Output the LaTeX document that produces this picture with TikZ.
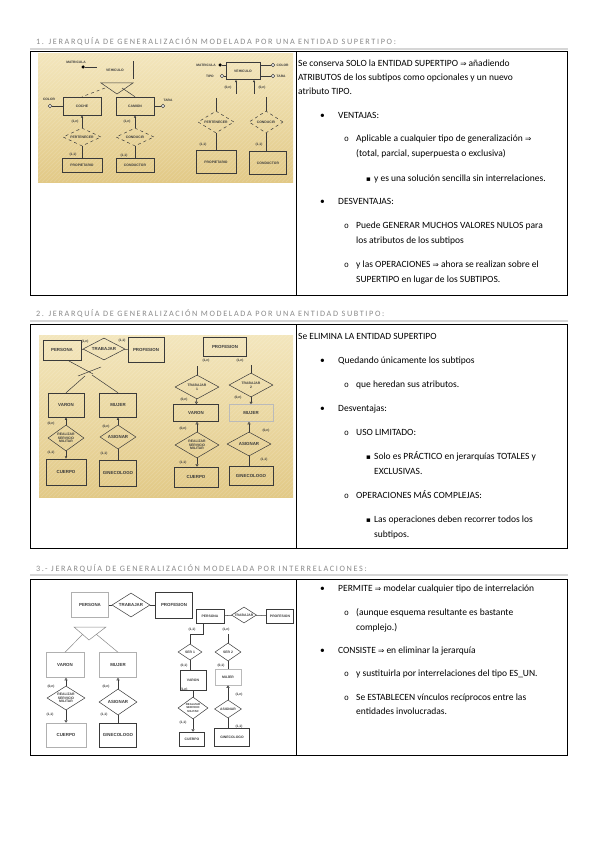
\documentclass[tikz,border=0pt]{standalone}
\usepackage{fontspec}
\setmainfont{Carlito}
\newfontfamily\diagf{Liberation Sans}
\newfontfamily\symf{DejaVu Sans}
\newfontfamily\monof{Liberation Mono}
\usetikzlibrary{shapes.geometric,arrows.meta}
\definecolor{tanA}{HTML}{F3E6BC}
\definecolor{tanB}{HTML}{E2C986}
\definecolor{titlegray}{HTML}{8A8A8A}
\definecolor{rulegray}{HTML}{D6D6D6}
\definecolor{inkd}{HTML}{3A3A3A}
\tikzset{
 ttl/.style={anchor=base west, inner sep=0, text=titlegray, font=\fontsize{8.2}{9.5}\selectfont\addfontfeature{LetterSpace=20}},
 txt/.style={anchor=base west, inner sep=0, font=\fontsize{9.5}{11}\selectfont},
 bul/.style={anchor=base west, inner sep=0, font=\fontsize{9.5}{11}\selectfont},
 bulo/.style={anchor=base west, inner sep=0, font=\monof\fontsize{8}{9}\selectfont},
 buls/.style={anchor=base west, inner sep=0, font=\symf\fontsize{7}{8}\selectfont},
 ent/.style={draw=inkd, line width=0.5, inner sep=0, text=inkd, align=center, font=\diagf\bfseries\fontsize{4.4}{4.8}\selectfont},
 sm/.style={font=\diagf\bfseries\fontsize{3.4}{3.8}\selectfont},
 rel/.style={diamond, shape aspect=2, draw=inkd, line width=0.5, inner sep=0, text=inkd, align=center, font=\diagf\bfseries\fontsize{4.4}{4.8}\selectfont},
 card/.style={inner sep=0, text=inkd, font=\diagf\bfseries\fontsize{3.3}{3.7}\selectfont},
 cn/.style={draw=inkd, line width=0.5},
 fa/.style={cn, -{Latex[length=2.5,width=2.5]}},
 oa/.style={cn, -{Triangle[open,length=2.5,width=3.2]}},
 wc/.style={circle, draw=inkd, fill=white, inner sep=0, minimum size=3.5, line width=0.4},
 bc/.style={circle, fill=black, inner sep=0, minimum size=3.5},
}
\begin{document}
\begin{tikzpicture}[x=1pt,y=-1pt]
\useasboundingbox (0,0) rectangle (599,848);
\fill[white] (0,0) rectangle (599,848);

% ===================== SECTION 1 =====================
\node[ttl] (h1) at (36,44.5) {1. JERARQUÍA DE GENERALIZACIÓN MODELADA POR UNA ENTIDAD SUPERTIPO:};
\draw[rulegray, line width=1.5] (30,49) -- (568,49);
\draw[line width=0.6] (30,51) rectangle (567,295);
\draw[line width=0.6] (296,51) -- (296,295);

\begin{scope}
 \clip (38,54) rectangle (293,182);
 \shade[top color=tanA, bottom color=tanB] (38,54) rectangle (293,182);
 \foreach \i in {0,4,...,400} \draw[white, opacity=0.13, line width=1] (38+\i,54) -- ++(-128,128);
\end{scope}

% left diagram
\node[card] (lmat1) at (76,62) {MATRICULA};
\node[bc] (mat1) at (83,67) {};
\node[ent, sm, draw=none, minimum width=36, minimum height=17] (veh1) at (115,70) {VEHICULO};
\draw[cn] (veh1.north east) -- (veh1.south east);
\draw[cn] (mat1) -- (mat1 -| veh1.west);
\coordinate (g1a) at (101,83);
\coordinate (g1b) at (133,83);
\coordinate (g1c) at (117,94);
\draw[cn] (g1a) -- (g1b) -- (g1c) -- cycle;
\coordinate (g1l) at (105,88);
\coordinate (g1r) at (122,88);
\node[ent, sm, minimum width=38, minimum height=18] (coche) at (82,106) {COCHE};
\node[ent, sm, minimum width=38, minimum height=18] (camion) at (135,106) {CAMION};
\draw[cn, dashed] (g1l) -- (coche.north);
\draw[cn] (g1r) -- (camion.north);
\node[wc] (col1) at (50,106) {};
\node[card] (lcol1) at (49,99.5) {COLOR};
\draw[cn] (col1) -- (coche.west);
\node[wc] (tara1) at (163,106) {};
\node[card] (ltara1) at (168,100) {TARA};
\draw[cn] (camion.east) -- (tara1);
\node[rel, dashed, minimum width=38, minimum height=18, sm] (pert1) at (82,137) {PERTENECER};
\draw[fa] (pert1) -- (coche);
\node[card] (c1a) at (75,122) {(1,n)};
\node[ent, sm, minimum width=40, minimum height=14] (prop1) at (82,165) {PROPIETARIO};
\draw[cn] (pert1) -- (prop1);
\node[card] (c1b) at (73,155) {(1,1)};
\node[rel, dashed, minimum width=38, minimum height=18, sm] (cond1) at (135,137) {CONDUCIR};
\draw[fa] (cond1) -- (camion);
\node[card] (c1c) at (127,122) {(1,n)};
\node[ent, sm, minimum width=38, minimum height=14] (condr1) at (135,165) {CONDUCTOR};
\draw[cn] (cond1) -- (condr1);
\node[card] (c1d) at (124,156) {(1,1)};

% right diagram
\node[ent, sm, minimum width=34, minimum height=17] (veh2) at (243,71) {VEHICULO};
\node[card, anchor=east] (lmat2) at (216,65) {MATRICULA};
\node[bc] (mat2) at (220,65) {};
\draw[cn] (mat2) -- (mat2 -| veh2.west);
\node[card, anchor=east] (ltip2) at (214,76.5) {TIPO};
\node[wc] (tip2) at (222,76) {};
\draw[cn] (tip2) -- (tip2 -| veh2.west);
\node[wc] (col2) at (273,65) {};
\node[card, anchor=west] (lcol2) at (276.5,65) {COLOR};
\draw[cn] (col2 -| veh2.east) -- (col2);
\node[wc] (tara2) at (273,76) {};
\node[card, anchor=west] (ltara2) at (276.5,76.5) {TARA};
\draw[cn] (tara2 -| veh2.east) -- (tara2);
\coordinate (a2l) at (236,94);
\coordinate (a2r) at (254,94);
\draw[fa] (a2l) -- (a2l |- veh2.south);
\draw[fa] (a2r) -- (a2r |- veh2.south);
\node[card] (c2a) at (228,88) {(0,n)};
\node[card] (c2b) at (262,88) {(0,n)};
\node[rel, dashed, sm, minimum width=36, minimum height=22] (pert2) at (216,122) {PERTENECER};
\node[rel, dashed, sm, minimum width=34, minimum height=22] (cond2) at (266,122) {CONDUCIR};
\draw[cn] (pert2.north) -- ++(0,-13);
\draw[cn] (cond2.north) -- ++(0,-14);
\node[card] (c2c) at (203,145) {(1,1)};
\node[card] (c2d) at (259,145) {(1,1)};
\node[ent, sm, minimum width=40, minimum height=23] (prop2) at (216,162) {PROPIETARIO};
\node[ent, sm, minimum width=37, minimum height=23] (condr2) at (268,163) {CONDUCTOR};
\draw[cn] (pert2) -- (prop2);
\draw[cn] (cond2.south) -- (cond2.south |- condr2.north);

% right text
\node[txt] (t1a) at (298,67) {Se conserva SOLO la ENTIDAD SUPERTIPO {\symf\fontsize{7.5}{9}\selectfont ⇒} añadiendo};
\node[txt] (t1b) at (298,81) {ATRIBUTOS de los subtipos como opcionales y un nuevo};
\node[txt] (t1c) at (298,95) {atributo TIPO.};
\node[bul] (b1a) at (320,119) {•};
\node[txt] (t1d) at (338,119) {VENTAJAS:};
\node[bulo] (b1b) at (344,142) {o};
\node[txt] (t1e) at (356,142) {Aplicable a cualquier tipo de generalización {\symf\fontsize{7.5}{9}\selectfont ⇒}};
\node[txt] (t1f) at (356,157) {(total, parcial, superpuesta o exclusiva)};
\node[buls] (b1c) at (366,181) {▪};
\node[txt] (t1g) at (374,181) {y es una solución sencilla sin interrelaciones.};
\node[bul] (b1d) at (320,204) {•};
\node[txt] (t1h) at (338,204) {DESVENTAJAS:};
\node[bulo] (b1e) at (344,228) {o};
\node[txt] (t1i) at (356,228) {Puede GENERAR MUCHOS VALORES NULOS para};
\node[txt] (t1j) at (356,243) {los atributos de los subtipos};
\node[bulo] (b1f) at (344,267) {o};
\node[txt] (t1k) at (356,267) {y las OPERACIONES {\symf\fontsize{7.5}{9}\selectfont ⇒} ahora se realizan sobre el};
\node[txt] (t1l) at (356,282) {SUPERTIPO en lugar de los SUBTIPOS.};

% ===================== SECTION 2 =====================
\node[ttl] (h2) at (36,316.5) {2. JERARQUÍA DE GENERALIZACIÓN MODELADA POR UNA ENTIDAD SUBTIPO:};
\draw[rulegray, line width=1.5] (30,321) -- (568,321);
\draw[line width=0.6] (30,324) rectangle (567,548);
\draw[line width=0.6] (296,324) -- (296,548);

\begin{scope}
 \clip (39,335) rectangle (293,497);
 \shade[top color=tanA, bottom color=tanB] (39,335) rectangle (293,497);
 \foreach \i in {0,4,...,440} \draw[white, opacity=0.13, line width=1] (39+\i,335) -- ++(-162,162);
\end{scope}

% left diagram
\node[ent, minimum width=38, minimum height=20] (pers2) at (62,350) {PERSONA};
\node[rel, minimum width=42, minimum height=22] (trab2) at (104,349) {TRABAJAR};
\node[ent, minimum width=36, minimum height=25] (prof2) at (146,350) {PROFESION};
\draw[cn] (pers2) -- (trab2);
\draw[cn] (trab2) -- (prof2);
\node[card] (c3a) at (85,342) {(1,n)};
\node[card] (c3b) at (122,341) {(1,1)};
\coordinate (g2a) at (69,361);
\coordinate (g2b) at (93,374);
\coordinate (g2c) at (78,376);
\coordinate (g2d) at (101,367);
\draw[cn] (g2a) -- (g2b);
\draw[cn] (g2c) -- (g2d);
\node[ent, minimum width=36, minimum height=24] (var2) at (66,405) {VARON};
\node[ent, minimum width=37, minimum height=24] (muj2) at (118,405) {MUJER};
\coordinate (g2e) at (85,376);
\coordinate (g2f) at (92,375);
\draw[cn] (g2e) -- (var2.north);
\draw[cn] (g2f) -- (muj2.north);
\node[rel, shape aspect=1.4, minimum width=36, minimum height=26, sm] (rsm2) at (66,438) {REALIZAR\\SERVICIO\\MILITAR};
\draw[fa] (rsm2) -- (var2);
\node[card] (c3c) at (51,424) {(0,n)};
\node[ent, minimum width=40, minimum height=26] (cue2) at (66,472) {CUERPO};
\draw[fa] (rsm2) -- (cue2);
\node[card] (c3d) at (51,453) {(1,1)};
\node[rel, minimum width=36, minimum height=24] (asi2) at (118,437) {ASIGNAR};
\draw[fa] (asi2) -- (muj2);
\node[card] (c3e) at (106,427) {(0,n)};
\node[ent, minimum width=37, minimum height=26] (gin2) at (118,473) {GINECOLOGO};
\draw[cn] (asi2) -- (gin2);
\node[card] (c3f) at (104,454) {(1,1)};

% right diagram
\node[ent, minimum width=43, minimum height=19] (prof2b) at (225,347) {PROFESION};
\node[card] (c4a) at (206,361) {(1,n)};
\node[card] (c4b) at (240,361) {(1,n)};
\node[rel, shape aspect=1.8, minimum width=44, minimum height=24, sm] (tr2a) at (197,387) {TRABAJAR\\1};
\node[rel, shape aspect=1.8, minimum width=44, minimum height=24, sm] (tr2b) at (251,385) {TRABAJAR\\2};
\draw[cn] (tr2a.north) -- ++(0,-9);
\draw[cn] (tr2b.north) -- ++(0,-8);
\node[ent, minimum width=45, minimum height=17] (var2b) at (196,413) {VARON};
\node[ent, draw=inkd!35, minimum width=44, minimum height=17] (muj2b) at (251,413) {MUJER};
\draw[oa] (tr2a) -- (var2b);
\draw[oa] (tr2b) -- (muj2b);
\node[card] (c4c) at (184,400) {(0,n)};
\node[card] (c4d) at (238,398) {(0,n)};
\node[rel, shape aspect=1.6, minimum width=44, minimum height=26, sm] (rsm2b) at (197,445) {REALIZAR\\SERVICIO\\MILITAR};
\node[rel, minimum width=44, minimum height=24] (asi2b) at (249,444) {ASIGNAR};
\draw[oa] (rsm2b) -- (rsm2b |- var2b.south);
\draw[oa] (asi2b) -- (asi2b |- muj2b.south);
\node[card] (c4e) at (183,429) {(0,n)};
\node[card] (c4f) at (266,431) {(0,n)};
\node[ent, minimum width=44, minimum height=20] (cue2b) at (196,477) {CUERPO};
\node[ent, minimum width=44, minimum height=19] (gin2b) at (251,476) {GINECOLOGO};
\draw[oa] (rsm2b.south) -- (rsm2b.south |- cue2b.north);
\draw[cn] (asi2b.south) -- (asi2b.south |- gin2b.north);
\node[card] (c4g) at (183,463) {(1,1)};
\node[card] (c4h) at (264,460) {(1,1)};

% right text
\node[txt] (t2a) at (298,339) {Se ELIMINA LA ENTIDAD SUPERTIPO};
\node[bul] (b2a) at (320,363) {•};
\node[txt] (t2b) at (338,363) {Quedando únicamente los subtipos};
\node[bulo] (b2b) at (344,387) {o};
\node[txt] (t2c) at (356,387) {que heredan sus atributos.};
\node[bul] (b2c) at (320,411) {•};
\node[txt] (t2d) at (338,411) {Desventajas:};
\node[bulo] (b2d) at (344,435) {o};
\node[txt] (t2e) at (356,435) {USO LIMITADO:};
\node[buls] (b2e) at (366,459) {▪};
\node[txt] (t2f) at (374,459) {Solo es PRÁCTICO en jerarquías TOTALES y};
\node[txt] (t2g) at (374,474) {EXCLUSIVAS.};
\node[bulo] (b2f) at (344,498) {o};
\node[txt] (t2h) at (356,498) {OPERACIONES MÁS COMPLEJAS:};
\node[buls] (b2g) at (366,522) {▪};
\node[txt] (t2i) at (374,522) {Las operaciones deben recorrer todos los};
\node[txt] (t2j) at (374,537) {subtipos.};

% ===================== SECTION 3 =====================
\node[ttl] (h3) at (36,571.5) {3.- JERARQUÍA DE GENERALIZACIÓN MODELADA POR INTERRELACIONES:};
\draw[rulegray, line width=1.5] (30,575) -- (568,575);
\draw[line width=0.6] (30,579) rectangle (567,755);
\draw[line width=0.6] (296,579) -- (296,755);

% left diagram
\node[ent, draw=inkd!40, minimum width=37, minimum height=25] (pers3) at (90,605) {PERSONA};
\node[rel, minimum width=38, minimum height=24] (trab3) at (131,605) {TRABAJAR};
\node[ent, line width=0.9, minimum width=37, minimum height=26] (prof3) at (174,605) {PROFESION};
\draw[cn] (pers3) -- (trab3);
\draw[cn] (trab3) -- (prof3);
\coordinate (g3a) at (74,627);
\coordinate (g3b) at (106,627);
\coordinate (g3c) at (89,640);
\draw[cn, draw=inkd!60] (g3a) -- (g3b) -- (g3c) -- cycle;
\node[ent, draw=inkd!40, minimum width=38, minimum height=25] (var3) at (65,665) {VARON};
\node[ent, draw=inkd!40, minimum width=37, minimum height=25] (muj3) at (118,665) {MUJER};
\coordinate (g3d) at (83,634);
\coordinate (g3e) at (96,634);
\draw[cn, draw=inkd!60] (g3d) -- (var3.north);
\draw[cn, draw=inkd!60] (g3e) -- (muj3.north);
\node[rel, shape aspect=1.5, minimum width=38, minimum height=24, sm] (rsm3) at (66,698) {REALIZAR\\SERVICIO\\MILITAR};
\draw[oa] (rsm3) -- (rsm3 |- var3.south);
\node[card] (c5a) at (51,687) {(0,n)};
\node[ent, draw=inkd!40, minimum width=40, minimum height=24] (cue3) at (66,735) {CUERPO};
\draw[oa] (rsm3) -- (rsm3 |- cue3.north);
\node[card] (c5b) at (50,715) {(1,1)};
\node[rel, minimum width=38, minimum height=26] (asi3) at (118,702) {ASIGNAR};
\draw[oa] (asi3) -- (muj3);
\node[card] (c5c) at (106,687) {(0,n)};
\node[ent, line width=0.9, minimum width=37, minimum height=24] (gin3) at (118,735) {GINECOLOGO};
\draw[cn] (asi3) -- (gin3);
\node[card] (c5d) at (104,715) {(1,1)};

% right diagram
\node[ent, sm, minimum width=28, minimum height=14] (pers3b) at (210,616) {PERSONA};
\node[rel, sm, shape aspect=1.6, minimum width=25, minimum height=16] (trab3b) at (244,615) {TRABAJAR};
\node[ent, sm, minimum width=27, minimum height=14] (prof3b) at (280,616) {PROFESION};
\draw[cn] (pers3b) -- (trab3b);
\draw[cn] (trab3b) -- (prof3b);
\node[card] (c6a) at (192,630) {(1,1)};
\node[card] (c6b) at (226,630) {(1,n)};
\node[rel, sm, shape aspect=1.5, minimum width=24, minimum height=16] (ser1) at (190,652) {SER 1};
\node[rel, sm, shape aspect=1.5, minimum width=26, minimum height=18] (ser2) at (228,652) {SER 2};
\coordinate (k1) at (203,634);
\draw[cn] (ser1.north) |- (k1) -- (k1 |- pers3b.south);
\draw[cn] (ser2.north) -- ++(0,-9);
\node[card] (c6c) at (184,666) {(0,1)};
\node[card] (c6d) at (221,666) {(0,1)};
\node[ent, sm, minimum width=26, minimum height=20] (var3b) at (193,680) {VARON};
\node[ent, sm, draw=inkd!35, minimum width=26, minimum height=16] (muj3b) at (228,677) {MUJER};
\draw[cn] (ser1.south) -- (ser1.south |- var3b.north);
\draw[cn] (ser2) -- (muj3b);
\node[card] (c6e) at (184,690) {(1,n)};
\node[rel, shape aspect=1.4, minimum width=30, minimum height=22, font=\diagf\bfseries\fontsize{2.8}{3.1}\selectfont] (rsm3b) at (193,708) {REALIZAR\\SERVICIO\\MILITAR};
\draw[cn] (var3b) -- (rsm3b);
\node[card] (c6f) at (183,723) {(1,1)};
\node[ent, sm, minimum width=25, minimum height=14] (cue3b) at (192,739) {CUERPO};
\draw[oa] (rsm3b.south) -- (rsm3b.south |- cue3b.north);
\node[card] (c6g) at (239,695) {(1,n)};
\node[rel, sm, shape aspect=1.5, minimum width=27, minimum height=18] (asi3b) at (228,709) {ASIGNAR};
\draw[oa] (asi3b) -- (muj3b);
\node[ent, sm, minimum width=35, minimum height=18] (gin3b) at (232,737) {GINECOLOGO};
\draw[cn] (asi3b.south) -- (asi3b.south |- gin3b.north);
\node[card] (c6h) at (239,727) {(1,1)};

% right text
\node[bul] (b3a) at (320,591) {•};
\node[txt] (t3a) at (338,591) {PERMITE {\symf\fontsize{7.5}{9}\selectfont ⇒} modelar cualquier tipo de interrelación};
\node[bulo] (b3b) at (344,615) {o};
\node[txt] (t3b) at (356,615) {(aunque esquema resultante es bastante};
\node[txt] (t3c) at (356,630) {complejo.)};
\node[bul] (b3c) at (320,653) {•};
\node[txt] (t3d) at (338,653) {CONSISTE {\symf\fontsize{7.5}{9}\selectfont ⇒} en eliminar la jerarquía};
\node[bulo] (b3d) at (344,676) {o};
\node[txt] (t3e) at (356,676) {y sustituirla por interrelaciones del tipo ES\_UN.};
\node[bulo] (b3e) at (344,700) {o};
\node[txt] (t3f) at (356,700) {Se ESTABLECEN vínculos recíprocos entre las};
\node[txt] (t3g) at (356,714) {entidades involucradas.};
\end{tikzpicture}
\end{document}
